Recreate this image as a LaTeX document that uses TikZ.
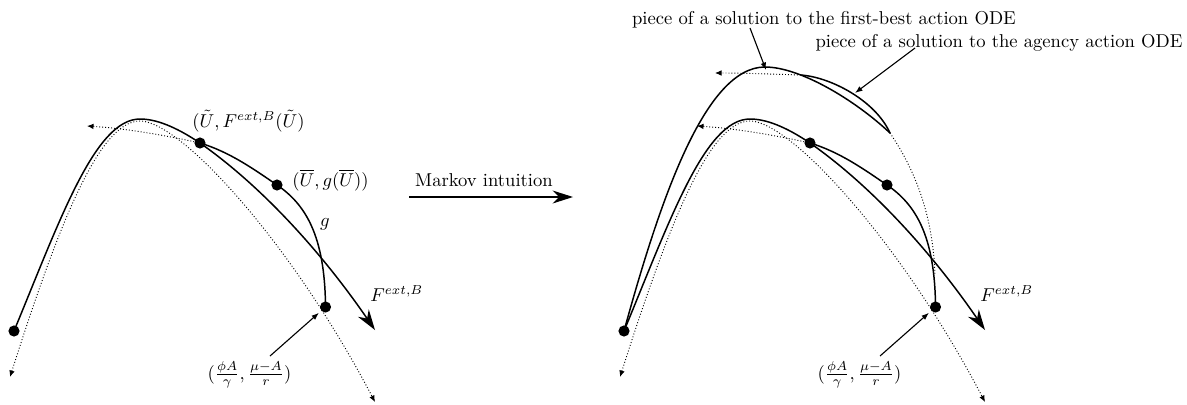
\documentclass[tikz,border=0pt]{standalone}
\usetikzlibrary{arrows.meta}
\begin{document}
\begin{tikzpicture}[x=0.5376pt,y=-0.5376pt,
  blackdot/.style={circle,fill=black,inner sep=0pt,minimum size=6pt},
  curve/.style={line width=0.8pt},
  dotline/.style={line width=0.5pt,dash pattern=on 0.5pt off 1.1pt},
  smalltip/.style={-{Latex[length=3.5pt,width=3pt]}},
  bigtip/.style={-{Stealth[length=11pt,width=7pt,inset=3.5pt]}},
  callout/.style={line width=0.6pt,-{Latex[length=4pt,width=3pt]}},
  lbl/.style={inner sep=0pt}]
\useasboundingbox (0,0) rectangle (1187,404);

\newcommand\basepic[2]{%
\begin{scope}[shift={(#2,0)}]
  \node[blackdot] (#1L) at (14,331) {};
  \node[blackdot] (#1U) at (200,143) {};
  \node[blackdot] (#1B) at (277,185) {};
  \node[blackdot] (#1P) at (325.5,307) {};
  % F^{ext,B}
  \draw[curve,bigtip] (#1L.center) .. controls (60,220) and (95,119) .. (140,119)
     .. controls (160,119) and (182,131) .. (#1U.center)
     .. controls (260,185) and (320,250) .. (375,330);
  % dotted parabola
  \draw[dotline,{Latex[length=3.5pt,width=3pt]}-{Latex[length=3.5pt,width=3pt]}]
     (10,377) .. controls (60,220) and (100,121) .. (140,121)
     .. controls (180,121) and (290,240) .. (375,402);
  % g
  \draw[curve] (#1U.center) .. controls (230,152) and (255,170) .. (#1B.center)
     .. controls (305,204) and (325,235) .. (#1P.center);
  % dotted to the left
  \draw[dotline,smalltip] (#1U.center) .. controls (160,134) and (120,128) .. (87,126);
  \node[lbl,anchor=base west] (#1F) at (370,301) {$F^{ext,B}$};
  \node[lbl] (#1frac) at (249.5,375) {$(\frac{\phi A}{\gamma},\frac{\mu-A}{r})$};
  \coordinate (#1fa) at (270,356);
  \draw[callout,shorten >=1.5pt] (#1fa) -- (#1P);
\end{scope}}

\basepic{l}{0}
\basepic{r}{610}

% left-only labels
\node[lbl,anchor=base west] (labU) at (192,127) {$(\tilde U, F^{ext,B}(\tilde U)$};
\node[lbl,anchor=base west] (labB) at (292,186) {$(\overline U, g(\overline U))$};
\node[lbl] (labg) at (325,224) {$g$};

% Markov arrow
\coordinate (mkA) at (409,197);
\coordinate (mkB) at (573,197);
\draw[line width=0.7pt,bigtip] (mkA) -- (mkB);
\node[lbl,anchor=base] (mk) at (484,186) {Markov intuition};

% right extras
\coordinate (T1) at (890,133);
\draw[curve] (rL.center) .. controls (660,200) and (705,67) .. (765,67)
   .. controls (800,67) and (855,100) .. (T1) coordinate[pos=0.3] (T0);
\draw[curve] (T0) .. controls (830,77) and (875,100) .. (T1);
\draw[dotline,smalltip] (T0) .. controls (770,74) and (740,73) .. (715,73);
\draw[dotline] (T1) .. controls (915,170) and (933,215) .. (935,275);

\node[lbl,anchor=base] (hfb) at (824,24) {piece of a solution to the first-best action ODE};
\node[lbl,anchor=base] (hag) at (999,47) {piece of a solution to the agency action ODE};
\coordinate (fbA) at (750,28);
\coordinate (fbB) at (766,70);
\draw[callout] (fbA) -- (fbB);
\coordinate (agA) at (915,48);
\coordinate (agB) at (855,93);
\draw[callout] (agA) -- (agB);
\end{tikzpicture}
\end{document}
